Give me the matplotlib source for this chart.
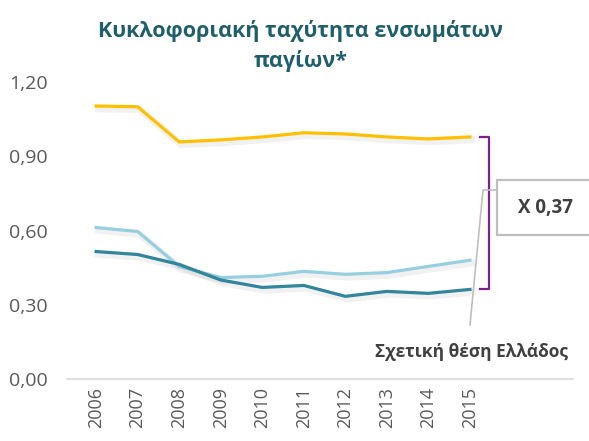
import matplotlib
matplotlib.use('Agg')
import matplotlib.pyplot as plt
import matplotlib.patheffects as pe
from matplotlib.patches import Rectangle
from matplotlib.lines import Line2D

plt.rcParams['font.family'] = ['Open Sans', 'DejaVu Sans']

# data
years = ['2006', '2007', '2008', '2009', '2010', '2011', '2012', '2013', '2014', '2015']
series_yellow = [1.103, 1.100, 0.958, 0.966, 0.978, 0.995, 0.990, 0.978, 0.970, 0.978]
series_light = [0.612, 0.596, 0.455, 0.410, 0.415, 0.435, 0.423, 0.430, 0.455, 0.480]
series_teal = [0.515, 0.503, 0.463, 0.400, 0.370, 0.378, 0.334, 0.354, 0.346, 0.362]
yticks = [0.0, 0.3, 0.6, 0.9, 1.2]

title = 'Κυκλοφοριακή ταχύτητα ενσωμάτων\nπαγίων*'
ratio_label = 'X 0,37'
note_label = 'Σχετική θέση Ελλάδος'

W, H = 589, 441
fig = plt.figure(figsize=(W / 100, H / 100), dpi=100)
ax = fig.add_axes([67 / W, 1 - 379 / H, (573 - 67) / W, (379 - 82) / H])

def px(x, y):
    # pixel position -> figure fraction
    return x / W, 1 - y / H

shadow = [pe.SimpleLineShadow(offset=(1.5, -2), shadow_color='#7f7f7f', alpha=0.1, linewidth=5),
          pe.Normal()]
x = list(range(len(years)))
for vals, col in [(series_yellow, '#FFC000'), (series_light, '#96D0E0'), (series_teal, '#31859C')]:
    ax.plot(x, vals, color=col, lw=2.3, solid_joinstyle='miter', path_effects=shadow, zorder=3)

ax.set_xlim(-0.7, 11.48)
ax.set_ylim(0, 1.2)
ax.set_yticks(yticks)
ax.set_yticklabels([f'{v:.2f}'.replace('.', ',') for v in yticks], color='#595959', fontsize=14)
ax.set_xticks(x)
ax.set_xticklabels(years, rotation=90, color='#595959', fontsize=13)
ax.tick_params(length=0, axis='y', pad=14)
ax.tick_params(length=0, axis='x', pad=6)
for s in ['left', 'right', 'top']:
    ax.spines[s].set_visible(False)
ax.spines['bottom'].set_color('#d9d9d9')
ax.spines['bottom'].set_linewidth(1.2)

fig.text(0.51, px(0, 46)[1], title, ha='center', va='center', fontsize=15.5,
         fontweight='bold', color='#1F5F6B', linespacing=1.45)

# bracket spanning Greece's gap (last year)
xb0, xb1 = 9.25, 9.45
ytop, ybot = series_yellow[-1], series_teal[-1]
ax.plot([xb0, xb1, xb1, xb0], [ytop, ytop, ybot, ybot], color='#7F1F8F', lw=1.6,
        clip_on=False, zorder=4)

# callout box
bx0, by0 = px(497, 235)
bx1, by1 = px(600, 180)
fig.patches.append(Rectangle((bx0, by0), bx1 - bx0, by1 - by0, transform=fig.transFigure,
                             facecolor='white', edgecolor='#BFBFBF', lw=1.6, zorder=5))
fig.text(*px(545, 208), ratio_label, ha='center', va='center', fontsize=13.5,
         fontweight='bold', color='#404040', zorder=6)

# leader line
lx, ly = zip(px(497, 190), px(483, 190), px(470, 325))
fig.lines.append(Line2D(lx, ly, transform=fig.transFigure, color='#BFBFBF', lw=1.2))
fig.text(*px(568, 352), note_label, ha='right', va='center', fontsize=12.5,
         fontweight='bold', color='#404040')

fig.savefig('out.png', dpi=100, facecolor='white')
